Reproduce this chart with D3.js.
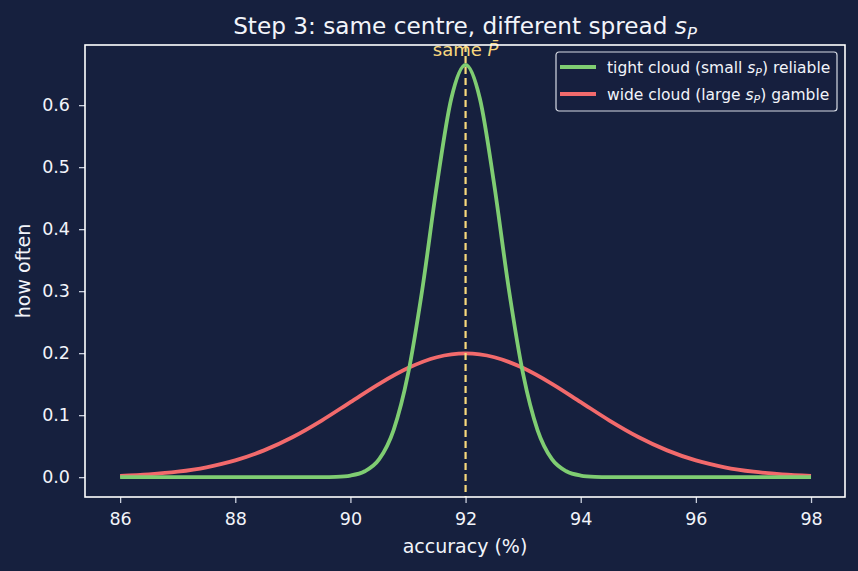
<!DOCTYPE html>
<html>
<head>
<meta charset="utf-8">
<script src="https://cdn.jsdelivr.net/npm/d3@7"></script>
<style>
  body { margin: 0; background: #16203e; }
  svg { display: block; font-family: "DejaVu Sans", sans-serif; }
</style>
</head>
<body>
<svg width="858" height="571"></svg>
<script>
// values
var tightX = [86, 89, 89.5, 89.75, 90, 90.25, 90.5, 90.75, 91, 91.25, 91.5, 91.75, 92,
  92.25, 92.5, 92.75, 93, 93.25, 93.5, 93.75, 94, 94.25, 94.5, 95, 98];
var tightY = [0, 0, 0.0001, 0.0006, 0.0026, 0.0095, 0.029, 0.076, 0.166, 0.304, 0.470, 0.610, 0.665,
  0.610, 0.470, 0.304, 0.166, 0.076, 0.029, 0.0095, 0.0026, 0.0006, 0.0001, 0, 0];
var wideX = [86, 86.5, 87, 87.5, 88, 88.5, 89, 89.5, 90, 90.5, 91, 91.5, 92,
  92.5, 93, 93.5, 94, 94.5, 95, 95.5, 96, 96.5, 97, 97.5, 98];
var wideY = [0.0022, 0.0046, 0.0088, 0.0159, 0.027, 0.0432, 0.0648, 0.0913, 0.121, 0.1506, 0.176, 0.1934, 0.1995,
  0.1934, 0.176, 0.1506, 0.121, 0.0913, 0.0648, 0.0432, 0.027, 0.0159, 0.0088, 0.0046, 0.0022];
var centre = 92;
var xTicks = [86, 88, 90, 92, 94, 96, 98];
var yTicks = [0, 0.1, 0.2, 0.3, 0.4, 0.5, 0.6];

var svg = d3.select('svg');
var margin = {top: 45, right: 13, bottom: 74, left: 85};
var width = 858 - margin.left - margin.right;
var height = 571 - margin.top - margin.bottom;
var g = svg.append('g').attr('transform', `translate(${margin.left},${margin.top})`);

var x = d3.scaleLinear().domain([85.39, 98.59]).range([0, width]);
var y = d3.scaleLinear().domain([-0.032, 0.697]).range([height, 0]);

var txt = '#f2f4fa';
var tickCol = '#c9cfdd';

// axes
var xa = g.append('g').attr('transform', `translate(0,${height})`)
  .call(d3.axisBottom(x).tickValues(xTicks).tickFormat(d3.format('d')).tickSize(6).tickPadding(10));
var ya = g.append('g')
  .call(d3.axisLeft(y).tickValues(yTicks).tickFormat(d3.format('.1f')).tickSize(6).tickPadding(9));
[xa, ya].forEach(function(a) {
  a.select('.domain').remove();
  a.selectAll('line').attr('stroke', tickCol).attr('stroke-width', 1.3);
  a.selectAll('text').attr('fill', txt).attr('font-size', 17.5).attr('font-family', 'DejaVu Sans');
});

// curves
var line = d3.line().x(d => x(d[0])).y(d => y(d[1])).curve(d3.curveMonotoneX);
g.append('path').datum(d3.zip(wideX, wideY))
  .attr('d', line).attr('fill', 'none').attr('stroke', '#f26a6c').attr('stroke-width', 3.8);
g.append('path').datum(d3.zip(tightX, tightY))
  .attr('d', line).attr('fill', 'none').attr('stroke', '#7fcd72').attr('stroke-width', 3.8);

// centre line
g.append('line').attr('x1', x(centre)).attr('x2', x(centre)).attr('y1', 0).attr('y2', height)
  .attr('stroke', '#f8d97c').attr('stroke-width', 2.2).attr('stroke-dasharray', '7,4');

var ann = g.append('text').attr('x', x(centre)).attr('y', 11).attr('text-anchor', 'middle')
  .attr('fill', '#f7d77e').attr('font-size', 18);
ann.append('tspan').text('same ');
ann.append('tspan').attr('font-style', 'italic').text('P\u0304');

// frame
g.append('rect').attr('width', width).attr('height', height)
  .attr('fill', 'none').attr('stroke', '#ffffff').attr('stroke-width', 1.6);

// title
var title = svg.append('text').attr('x', margin.left + width / 2).attr('y', 34)
  .attr('text-anchor', 'middle').attr('fill', txt).attr('font-size', 23.2);
title.append('tspan').text('Step 3: same centre, different spread ');
title.append('tspan').attr('font-style', 'italic').text('s');
title.append('tspan').attr('font-style', 'italic').attr('font-size', 16.5).attr('dy', 5).text('P');

// axis labels
svg.append('text').attr('x', margin.left + width / 2).attr('y', 553).attr('text-anchor', 'middle')
  .attr('fill', txt).attr('font-size', 19).text('accuracy (%)');
svg.append('text').attr('transform', `translate(30,${margin.top + height / 2}) rotate(-90)`)
  .attr('text-anchor', 'middle').attr('fill', txt).attr('font-size', 19).text('how often');

// legend
var lg = svg.append('g').attr('transform', 'translate(556,52)');
lg.append('rect').attr('width', 281).attr('height', 59).attr('rx', 3)
  .attr('fill', '#16203e').attr('fill-opacity', 0.85).attr('stroke', '#d6dae4').attr('stroke-width', 1.2);
var items = [['tight cloud (small ', ') reliable', '#7fcd72'], ['wide cloud (large ', ') gamble', '#f26a6c']];
items.forEach(function(it, i) {
  var yy = 15 + i * 27;
  lg.append('line').attr('x1', 4).attr('x2', 40).attr('y1', yy).attr('y2', yy)
    .attr('stroke', it[2]).attr('stroke-width', 3.8);
  var t = lg.append('text').attr('x', 51).attr('y', yy + 5.5).attr('fill', txt).attr('font-size', 15.5);
  t.append('tspan').text(it[0]);
  t.append('tspan').attr('font-style', 'italic').text('s');
  t.append('tspan').attr('font-style', 'italic').attr('font-size', 11).attr('dy', 3).text('P');
  t.append('tspan').attr('dy', -3).text(it[1]);
});
</script>
</body>
</html>
